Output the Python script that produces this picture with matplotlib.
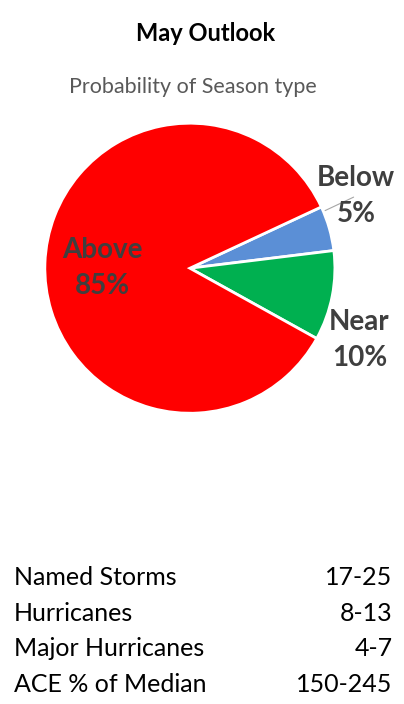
"""May outlook: season-type probability pie plus forecast ranges."""

import matplotlib

matplotlib.use("Agg")
import matplotlib.pyplot as plt
import numpy as np

plt.rcParams["font.family"] = ["Lato", "DejaVu Sans"]

# season type probabilities (%)
season_types = ["Below", "Near", "Above"]
probabilities = [5, 10, 85]
slice_colors = ["#5B8FD6", "#00B050", "#FF0000"]

# forecast ranges table
stat_names = ["Named Storms", "Hurricanes", "Major Hurricanes", "ACE % of Median"]
stat_ranges = ["17-25", "8-13", "4-7", "150-245"]

LABEL_COLOR = "#3F3F3F"

fig = plt.figure(figsize=(4.04, 7.04), dpi=100)
fig.patch.set_facecolor("white")

fig.text(0.51, 0.952, "May Outlook", ha="center", va="center",
         fontsize=17, fontweight="bold", color="black")
fig.text(0.478, 0.877, "Probability of Season type", ha="center", va="center",
         fontsize=15.5, color="#595959")

ax = fig.add_axes([0.111, 0.413, 0.718, 0.412])
wedges, _ = ax.pie(
    probabilities,
    colors=slice_colors,
    startangle=25,
    counterclock=False,
    radius=1.0,
    wedgeprops={"edgecolor": "white", "linewidth": 2},
)
ax.set_xlim(-1, 1)
ax.set_ylim(-1, 1)
ax.set_aspect("equal")

# label placement (fraction of radius, degrees) per slice
label_spots = {"Below": (1.25, 23.5), "Near": (1.27, -23), "Above": (0.60, 180)}
for name, pct, wedge in zip(season_types, probabilities, wedges):
    r, ang = label_spots[name]
    tx, ty = r * np.cos(np.radians(ang)), r * np.sin(np.radians(ang))
    text = f"{name}\n{pct}%"
    if name == "Below":
        mid = np.radians((wedge.theta1 + wedge.theta2) / 2)
        ax.annotate(text, xy=(0.97 * np.cos(mid), 0.97 * np.sin(mid) + 0.13),
                    xytext=(tx, ty), ha="center", va="center",
                    fontsize=20, fontweight="bold", color=LABEL_COLOR,
                    linespacing=1.45, annotation_clip=False,
                    arrowprops={"arrowstyle": "-", "color": "#A6A6A6", "lw": 0.8,
                                "shrinkA": 2, "shrinkB": 0})
    else:
        ax.text(tx, ty, text, ha="center", va="center", fontsize=20,
                fontweight="bold", color=LABEL_COLOR, linespacing=1.45,
                clip_on=False)

# forecast ranges
row_y = [0.179, 0.129, 0.079, 0.027]
for name, rng, y in zip(stat_names, stat_ranges, row_y):
    fig.text(0.035, y, name, ha="left", va="center", fontsize=18, color="black")
    fig.text(0.972, y, rng, ha="right", va="center", fontsize=18, color="black")

fig.savefig("out.png", dpi=100)
